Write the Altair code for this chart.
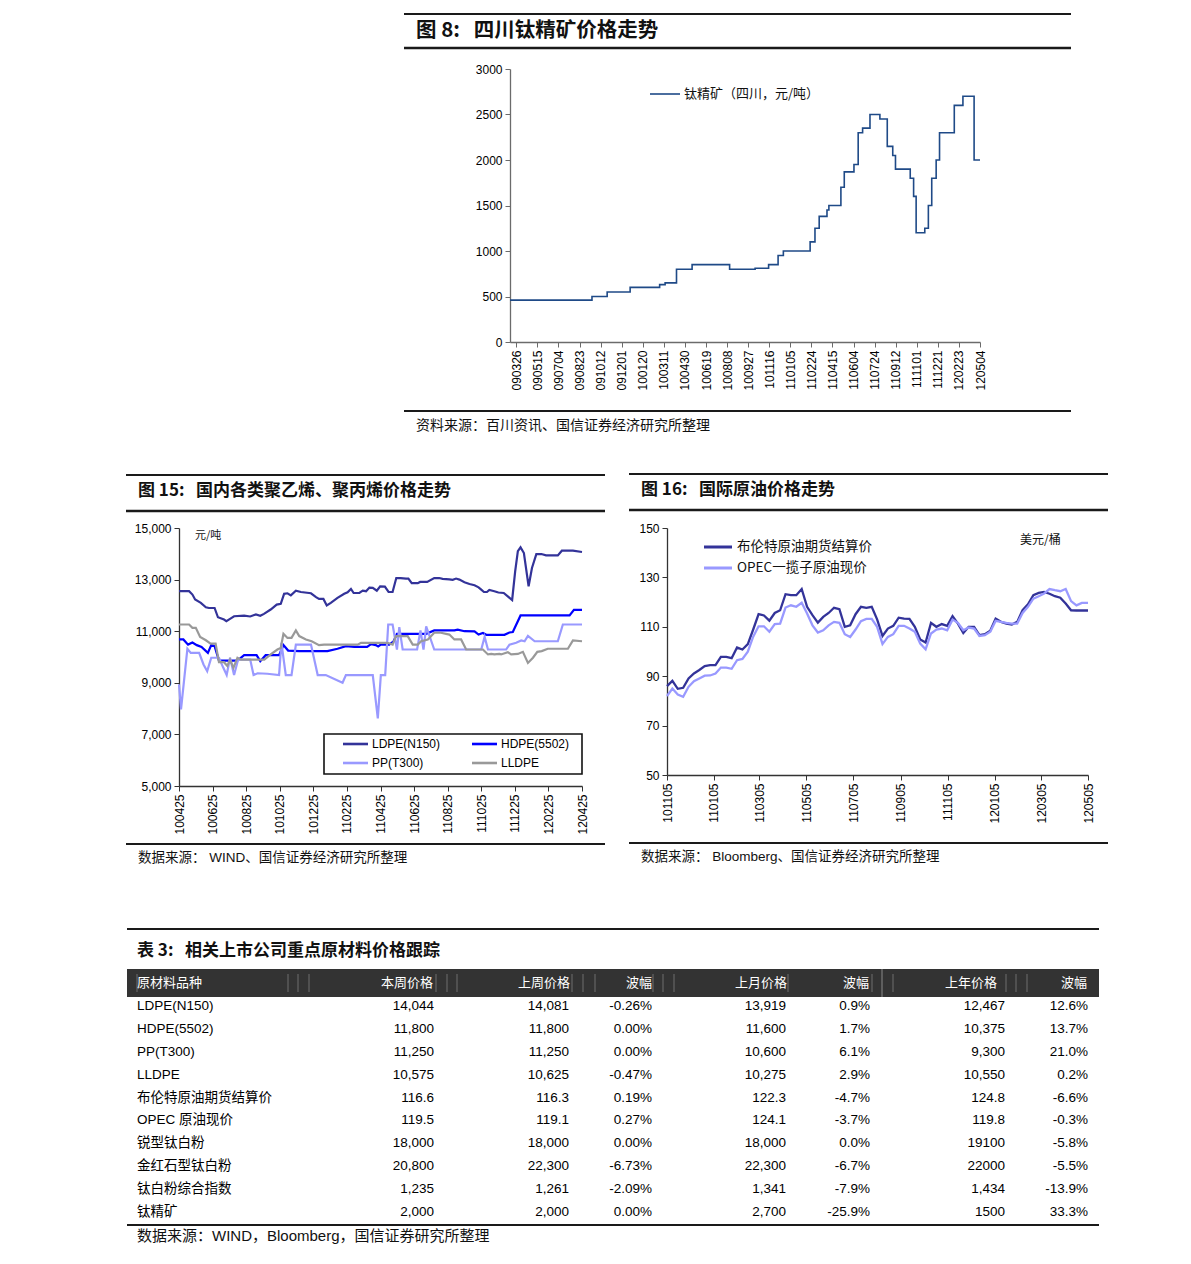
import altair as alt
import pandas as pd

CJK = "Noto Sans CJK SC"
MIX = "Liberation Sans, Noto Sans CJK SC"
LAT = "Liberation Sans"
GAP = "\u00a0\u00a0\u00a0"

# ---------------- Figure 8: Sichuan ilmenite concentrate price ----------------
labels8 = ["090326", "090515", "090704", "090823", "091012", "091201", "100120",
           "100311", "100430", "100619", "100808", "100927", "101116", "110105",
           "110224", "110415", "110604", "110724", "110912", "111101", "111221",
           "120223", "120504"]
# step starts (in tick-label units) and price level from that point on
t8 = [-0.3, 3.59, 4.31, 5.40, 6.80, 7.06, 7.60, 8.34, 10.12, 11.33, 11.97, 12.42,
      12.67, 13.94, 14.17, 14.37, 14.74, 14.83, 15.40, 15.56, 16.02, 16.22, 16.43,
      16.78, 17.25, 17.60, 17.86, 17.99, 18.69, 18.85, 18.97, 19.38, 19.55, 19.71,
      19.92, 20.08, 20.78, 21.19, 21.72, 22.0]
v8 = [460, 500, 550, 600, 630, 650, 800, 850, 800, 810, 850, 950, 1000, 1100, 1250,
      1380, 1450, 1500, 1700, 1870, 1950, 2300, 2350, 2500, 2450, 2150, 2050, 1900,
      1800, 1600, 1200, 1250, 1500, 1800, 2000, 2300, 2600, 2700, 2000, 2000]
series8 = "钛精矿（四川，元/吨）"
color8 = "#1F4A87"

# ---------------- Figure 15: PE / PP prices ----------------
labels15 = ["100425", "100625", "100825", "101025", "101225", "110225", "110425",
            "110625", "110825", "111025", "111225", "120225", "120425"]
names15 = ["LDPE(N150)", "HDPE(5502)", "PP(T300)", "LLDPE"]
colors15 = ["#333399", "#0000FF", "#9999FF", "#999999"]

t_ldpe = [0.00, 0.30, 0.40, 0.48, 0.65, 0.80, 0.89, 1.06, 1.16, 1.34, 1.41, 1.52, 1.64,
          1.94, 2.12, 2.29, 2.42, 2.53, 2.73, 2.91, 3.03, 3.13, 3.23, 3.33, 3.48, 3.63,
          3.93, 4.08, 4.17, 4.30, 4.40, 4.52, 4.72, 4.92, 5.02, 5.12, 5.20, 5.37, 5.47,
          5.57, 5.67, 5.77, 5.89, 5.99, 6.13, 6.24, 6.36, 6.47, 6.60, 6.76, 6.83, 6.93,
          7.11, 7.18, 7.39, 7.60, 7.75, 7.85, 8.05, 8.15, 8.25, 8.35, 8.50, 8.65, 8.80,
          8.92, 9.00, 9.08, 9.17, 9.24, 9.39, 9.51, 9.67, 9.79, 9.92, 10.01, 10.09,
          10.17, 10.27, 10.41, 10.51, 10.64, 10.79, 10.93, 11.28, 11.40, 11.73, 12.00]
v_ldpe = [12550, 12550, 12420, 12230, 12100, 11930, 11900, 11900, 11540, 11450, 11390,
          11480, 11580, 11600, 11570, 11650, 11600, 11670, 11840, 12030, 12060, 12450,
          12470, 12390, 12570, 12520, 12470, 12320, 12250, 12250, 12000, 12100, 12290,
          12450, 12510, 12640, 12480, 12480, 12570, 12550, 12690, 12680, 12570, 12740,
          12730, 12520, 12520, 13060, 13060, 13040, 13040, 12860, 12860, 12910, 12910,
          13060, 13060, 13030, 13010, 12990, 13040, 13000, 12900, 12830, 12780, 12700,
          12610, 12520, 12520, 12600, 12550, 12500, 12480, 12350, 12210, 13320, 14100,
          14250, 14030, 12740, 13450, 13990, 13990, 13940, 13940, 14120, 14120, 14070]

t_hdpe = [0.00, 0.13, 0.27, 0.40, 0.53, 0.67, 0.86, 0.96, 1.06, 1.19, 1.74, 1.94, 2.31,
          2.42, 2.58, 2.98, 3.11, 3.25, 3.58, 4.42, 4.72, 4.97, 5.22, 5.60, 5.72, 5.86,
          5.93, 6.01, 6.26, 6.39, 6.49, 7.36, 7.60, 8.20, 8.30, 8.50, 8.80, 8.92, 9.05,
          9.15, 9.69, 9.84, 9.94, 10.17, 11.63, 11.76, 12.00]
v_hdpe = [10680, 10680, 10480, 10560, 10460, 10390, 10160, 10460, 10420, 9860, 9860,
          10070, 10070, 9840, 10070, 10070, 10460, 10250, 10230, 10230, 10320, 10420,
          10390, 10390, 10500, 10460, 10410, 10480, 10480, 10610, 10900, 10900, 11030,
          11030, 11060, 11000, 10990, 10870, 10930, 10860, 10860, 10950, 10970, 11610,
          11610, 11830, 11830]

t_pp = [0.00, 0.06, 0.25, 0.35, 0.60, 0.73, 0.84, 0.96, 1.19, 1.32, 1.42, 1.52, 1.64,
        1.76, 2.12, 2.22, 2.34, 2.63, 2.98, 3.05, 3.18, 3.35, 3.48, 3.93, 4.13, 4.37,
        4.87, 4.97, 5.77, 5.92, 6.01, 6.14, 6.23, 6.36, 6.49, 6.56, 6.66, 7.09, 7.19,
        7.28, 7.36, 7.60, 9.00, 9.10, 9.20, 9.74, 9.84, 10.04, 10.19, 10.29, 10.39,
        10.59, 11.28, 11.43, 12.00]
v_pp = [8940, 7970, 10320, 10160, 10160, 9710, 9450, 9970, 9970, 9580, 9300, 9970, 9300,
        9900, 9900, 9300, 9370, 9350, 9300, 10550, 9300, 9300, 10480, 10480, 9300, 9300,
        9000, 9300, 9300, 7620, 9300, 9300, 11260, 11260, 10290, 11160, 10290, 10290,
        11030, 10290, 11190, 10290, 10290, 10780, 10290, 10290, 10480, 10550, 10640,
        10610, 10820, 10610, 10610, 11260, 11260]

t_lldpe = [0.00, 0.30, 0.40, 0.50, 0.63, 0.80, 0.94, 1.09, 1.19, 1.34, 1.44, 1.52, 1.62,
           1.74, 1.84, 2.54, 2.73, 2.93, 3.03, 3.11, 3.23, 3.35, 3.48, 3.58, 3.78, 3.95,
           4.17, 4.32, 5.32, 5.42, 6.21, 6.36, 6.46, 6.81, 6.96, 7.11, 7.21, 7.41, 7.60,
           7.80, 8.05, 8.20, 8.40, 8.55, 9.05, 9.20, 9.30, 9.39, 9.54, 9.59, 9.79, 9.89,
           10.09, 10.24, 10.39, 10.54, 10.67, 10.80, 10.98, 11.58, 11.73, 12.00]
v_lldpe = [11260, 11260, 11130, 11130, 10780, 10650, 10520, 10520, 9800, 9800, 9650,
           9900, 9580, 9970, 9900, 9900, 10100, 10290, 10350, 10900, 10740, 10740, 11030,
           10810, 10680, 10610, 10460, 10480, 10480, 10550, 10550, 10480, 10810, 10810,
           10480, 10480, 10610, 10680, 10940, 10940, 10870, 10680, 10680, 10290, 10290,
           10100, 10120, 10100, 10120, 10100, 10190, 10100, 10120, 10200, 9770, 9970,
           10200, 10230, 10320, 10320, 10640, 10610]

# ---------------- Figure 16: crude oil ----------------
labels16 = ["101105", "110105", "110305", "110505", "110705", "110905", "111105",
            "120105", "120305", "120505"]
names16 = ["布伦特原油期货结算价", "OPEC一揽子原油现价"]
colors16 = ["#333399", "#9999FF"]
brent = [86.0, 88.1, 84.9, 85.3, 89.1, 91.1, 92.5, 94.1, 94.5, 94.5,
         97.8, 97.8, 97.3, 101.6, 100.8, 103.0, 108.9, 115.1, 114.6, 112.5,
         115.6, 116.7, 123.2, 122.8, 122.8, 125.3, 118.1, 114.7, 111.7, 114.0,
         115.6, 117.7, 117.1, 110.0, 110.6, 115.1, 118.1, 117.7, 118.1, 113.0,
         106.3, 109.3, 110.4, 113.7, 113.3, 113.2, 110.0, 104.9, 103.6, 111.6,
         110.0, 111.1, 110.4, 114.3, 111.3, 107.5, 110.0, 110.0, 106.6, 107.0,
         108.4, 113.3, 112.0, 111.3, 110.9, 112.0, 116.7, 119.1, 122.8, 123.7,
         124.1, 123.4, 122.4, 121.8, 119.4, 116.7, 116.6, 116.6, 116.6]
opec = [82.0, 85.0, 82.6, 81.7, 85.7, 88.0, 89.1, 90.2, 90.3, 91.1,
        93.5, 93.5, 93.0, 96.5, 97.0, 99.9, 106.0, 110.2, 110.2, 108.0,
        111.1, 111.3, 117.8, 118.7, 118.1, 119.7, 115.4, 110.6, 107.7, 108.6,
        110.6, 112.0, 111.6, 107.0, 105.9, 108.9, 112.3, 113.2, 113.2, 110.0,
        103.0, 105.9, 107.0, 110.4, 110.4, 109.3, 108.0, 103.2, 100.9, 107.3,
        108.9, 109.3, 108.6, 112.9, 111.6, 108.6, 109.7, 109.3, 106.3, 106.6,
        108.0, 112.4, 112.0, 111.6, 111.3, 111.3, 115.6, 118.1, 121.4, 122.4,
        123.5, 125.3, 124.8, 124.4, 125.3, 120.4, 118.7, 119.7, 119.7]
dates16 = [d.strftime("%Y-%m-%d") for d in
           pd.date_range("2010-11-05", "2012-05-05", periods=len(brent))]

# ---------------- Table 3 ----------------
tbl_headers = ["原材料品种", "本周价格", "上周价格", "波幅", "上月价格", "波幅", "上年价格", "波幅"]
tbl_names = ["LDPE(N150)", "HDPE(5502)", "PP(T300)", "LLDPE", "布伦特原油期货结算价",
             "OPEC 原油现价", "锐型钛白粉", "金红石型钛白粉", "钛白粉综合指数", "钛精矿"]
this_week = ["14,044", "11,800", "11,250", "10,575", "116.6", "119.5", "18,000", "20,800", "1,235", "2,000"]
last_week = ["14,081", "11,800", "11,250", "10,625", "116.3", "119.1", "18,000", "22,300", "1,261", "2,000"]
wk_chg = ["-0.26%", "0.00%", "0.00%", "-0.47%", "0.19%", "0.27%", "0.00%", "-6.73%", "-2.09%", "0.00%"]
last_month = ["13,919", "11,600", "10,600", "10,275", "122.3", "124.1", "18,000", "22,300", "1,341", "2,700"]
mo_chg = ["0.9%", "1.7%", "6.1%", "2.9%", "-4.7%", "-3.7%", "0.0%", "-6.7%", "-7.9%", "-25.9%"]
last_year = ["12,467", "10,375", "9,300", "10,550", "124.8", "119.8", "19100", "22000", "1,434", "1500"]
yr_chg = ["12.6%", "13.7%", "21.0%", "0.2%", "-6.6%", "-0.3%", "-5.8%", "-5.5%", "-13.9%", "33.3%"]


# ---------------- helpers ----------------
def one():
    return alt.Data(values=[{"k": 0}])


def txt(s, x, y, size, font=CJK, weight="normal", color="#111111", align="left"):
    return alt.Chart(alt.Data(values=[{"t": s}])).mark_text(
        align=align, baseline="middle", font=font, fontSize=size,
        fontWeight=weight, color=color).encode(
        x=alt.value(x), y=alt.value(y), text="t:N")


def hrule(x1, x2, y, w=2.0, color="#1a1a1a"):
    return alt.Chart(one()).mark_rule(strokeWidth=w, color=color).encode(
        x=alt.value(x1), x2=alt.value(x2), y=alt.value(y))


def vrule(x, y1, y2, w=1.0, color="#666666"):
    return alt.Chart(one()).mark_rule(strokeWidth=w, color=color).encode(
        x=alt.value(x), y=alt.value(y1), y2=alt.value(y2))


def box(x1, x2, y1, y2, fill, stroke=None, w=0.0):
    kw = dict(fill=fill)
    if stroke is not None:
        kw.update(stroke=stroke, strokeWidth=w)
    return alt.Chart(one()).mark_rect(**kw).encode(
        x=alt.value(x1), x2=alt.value(x2), y=alt.value(y1), y2=alt.value(y2))


def js_list(xs):
    return "[" + ",".join("'%s'" % x for x in xs) + "]"


def axis_common(color):
    return dict(title=None, tickSize=5, labelPadding=3, domainColor=color,
                tickColor=color, domainWidth=1.3, labelFont=LAT, labelFontSize=12,
                labelColor="#000000", grid=False, labelFlush=False, labelOverlap=False)


# ---------------- Figure 8 chart (its cell shares the left column; plot shifted right) ----------------
X8 = 331  # horizontal shift of figure 8's plot inside its cell
df8 = pd.DataFrame({"t": t8, "v": v8})
line8 = alt.Chart(df8).mark_line(interpolate="step-after", strokeWidth=1.6, color=color8).encode(
    x=alt.X("t:Q", scale=alt.Scale(domain=[-0.3, 22], range=[X8, X8 + 470], nice=False, zero=False),
            axis=alt.Axis(values=list(range(len(labels8))),
                          labelExpr=js_list(labels8) + "[datum.value]",
                          labelAngle=-90, **axis_common("#6b6b6b"))),
    y=alt.Y("v:Q", scale=alt.Scale(domain=[0, 3000], nice=False),
            axis=alt.Axis(values=list(range(0, 3001, 500)), format="d", offset=-X8,
                          **axis_common("#6b6b6b"))),
)
ch8 = alt.layer(
    line8,
    hrule(X8 - 106, X8 + 561, -55, 2.2),
    txt("图 8:" + GAP + "四川钛精矿价格走势", X8 - 94, -38, 20.5, weight="bold"),
    hrule(X8 - 106, X8 + 561, -21, 2.5),
    hrule(X8 - 106, X8 + 561, 342, 2.2),
    txt("资料来源：百川资讯、国信证券经济研究所整理", X8 - 94, 357, 14),
    hrule(X8 + 140, X8 + 170, 25, 1.6, color8),
    txt(series8, X8 + 174, 25, 13),
).properties(width=403, height=273)

# ---------------- Figure 15 chart ----------------
df15 = pd.concat([pd.DataFrame({"t": t, "v": v, "s": n}) for n, t, v in
                  zip(names15, [t_ldpe, t_hdpe, t_pp, t_lldpe],
                      [v_ldpe, v_hdpe, v_pp, v_lldpe])], ignore_index=True)
lines15 = alt.Chart(df15).mark_line(strokeWidth=2.2).encode(
    x=alt.X("t:Q", scale=alt.Scale(domain=[0, 12], nice=False, zero=False),
            axis=alt.Axis(values=list(range(len(labels15))),
                          labelExpr=js_list(labels15) + "[datum.value]",
                          labelAngle=-90, **axis_common("#333333"))),
    y=alt.Y("v:Q", scale=alt.Scale(domain=[5000, 15000], nice=False, zero=False),
            axis=alt.Axis(values=list(range(5000, 15001, 2000)), format=",d",
                          **axis_common("#333333"))),
    color=alt.Color("s:N", scale=alt.Scale(domain=names15, range=colors15), legend=None),
)
leg15_pos = [(164, 216), (293, 216), (164, 235), (293, 235)]
leg15 = []
for (lx, ly), n, c in zip(leg15_pos, names15, colors15):
    leg15.append(hrule(lx, lx + 25, ly, 2.6, c))
    leg15.append(txt(n, lx + 29, ly, 12, font=LAT, color="#000000"))
ch15 = alt.layer(
    lines15,
    hrule(-53, 426, -53, 2.2),
    txt("图 15:" + GAP + "国内各类聚乙烯、聚丙烯价格走势", -41, -37, 17, weight="bold"),
    hrule(-53, 426, -17, 2.5),
    hrule(-53, 426, 316, 2.2),
    txt("数据来源： WIND、国信证券经济研究所整理", -41, 330, 13.5, font=MIX),
    txt("元/吨", 16, 8, 11),
    box(145, 403, 206, 246, "#ffffff", "#111111", 1.6),
    *leg15,
).properties(width=403, height=258)

# ---------------- Figure 16 chart ----------------
df16 = pd.DataFrame({"date": dates16 * 2, "v": brent + opec,
                     "s": [names16[0]] * len(brent) + [names16[1]] * len(opec)})


def dt(lbl):
    return alt.DateTime(year=2000 + int(lbl[:2]), month=int(lbl[2:4]), date=int(lbl[4:]), utc=True)


lines16 = alt.Chart(df16).mark_line(strokeWidth=2.3).encode(
    x=alt.X("date:T", scale=alt.Scale(type="utc", domain=[dt(labels16[0]), dt(labels16[-1])], nice=False),
            axis=alt.Axis(values=[dt(l) for l in labels16],
                          labelExpr="utcFormat(datum.value, '%y%m%d')",
                          labelAngle=-90, **axis_common("#333333"))),
    y=alt.Y("v:Q", scale=alt.Scale(domain=[50, 150], nice=False, zero=False),
            axis=alt.Axis(values=list(range(50, 151, 20)), format="d",
                          **axis_common("#333333"))),
    color=alt.Color("s:N", scale=alt.Scale(domain=names16, range=colors16), legend=None),
)
ch16 = alt.layer(
    lines16,
    hrule(-38, 441, -54, 2.2),
    txt("图 16:" + GAP + "国际原油价格走势", -26, -38, 17, weight="bold"),
    hrule(-38, 441, -18, 2.5),
    hrule(-38, 441, 315, 2.2),
    txt("数据来源： Bloomberg、国信证券经济研究所整理", -26, 329, 13.5, font=MIX),
    hrule(37, 65, 19, 3, colors16[0]),
    txt(names16[0], 70, 19, 13.5),
    hrule(37, 65, 40, 3, colors16[1]),
    txt(names16[1], 70, 40, 13.5),
    txt("美元/桶", 353, 12, 12),
).properties(width=421, height=247)

# ---------------- Table 3 ----------------
row_scale = alt.Scale(domain=[-1, 9], range=[11, 240], nice=False, zero=False)
col_data = [tbl_names, this_week, last_week, wk_chg, last_month, mo_chg, last_year, yr_chg]
col_anchor = [-42, 255, 390, 473, 607, 691, 826, 909]
hdr_anchor = [-42, 254, 391, 473, 608, 690, 818, 908]
col_align = ["left"] + ["right"] * 7

tbl_layers = [
    hrule(-52, 920, -43, 2.2),
    txt("表 3:" + GAP + "相关上市公司重点原材料价格跟踪", -42, -21, 17, weight="bold"),
    box(-52, 920, -3, 25, "#333333"),
]
for sx in [-42, 109, 119, 130, 257, 268, 278, 393, 404, 416, 474, 484, 495, 609, 693, 714, 827, 837, 848]:
    tbl_layers.append(vrule(sx, 2, 20, 1, "#6e6e6e"))
tbl_layers.append(vrule(703, -3, 25, 1, "#8a8a8a"))
for h, xa, al in zip(tbl_headers, hdr_anchor, col_align):
    tbl_layers.append(
        alt.Chart(pd.DataFrame({"row": [-1], "t": [h]})).mark_text(
            align=al, baseline="middle", font=CJK, fontSize=13, color="#ffffff").encode(
            x=alt.value(xa), y=alt.Y("row:Q", scale=row_scale, axis=None), text="t:N"))
for vals, xa, al in zip(col_data, col_anchor, col_align):
    tbl_layers.append(
        alt.Chart(pd.DataFrame({"row": list(range(len(vals))), "t": vals})).mark_text(
            align=al, baseline="middle", font=MIX, fontSize=13.5, color="#000000").encode(
            x=alt.value(xa), y=alt.Y("row:Q", scale=row_scale, axis=None), text="t:N"))
tbl_layers.append(hrule(-52, 920, 253, 2.2))
tbl_layers.append(txt("数据来源：WIND，Bloomberg，国信证券研究所整理", -42, 264, 15, font=MIX))
table = alt.layer(*tbl_layers).properties(width=403, height=254)

# ---------------- spacer & page layout ----------------
spacer = alt.Chart(one()).mark_point(opacity=0).encode(
    x=alt.value(0), y=alt.value(0)).properties(width=421, height=273)

chart = alt.concat(
    ch8, spacer, ch15, ch16, table,
    columns=2, spacing={"row": 186, "column": 85}, bounds="flush", align="each",
).resolve_scale(color="independent").properties(
    padding={"left": 116, "top": 4, "right": 5, "bottom": 5}
).configure_view(stroke=None)

chart.save("out.html", embed_options={"renderer": "svg", "actions": False})
